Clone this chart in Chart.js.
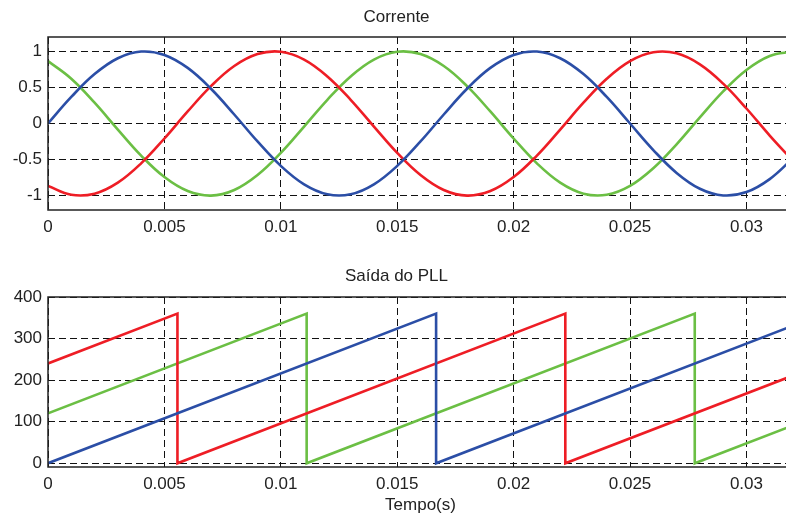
<!DOCTYPE html>
<html>
<head>
<meta charset="utf-8">
<script src="https://cdn.jsdelivr.net/npm/chart.js@4"></script>
<style>
  body { margin: 0; background: #fff; overflow: hidden; width: 786px; height: 516px; position: relative; }
  .box { position: absolute; left: 0; }
</style>
</head>
<body>
<div class="box" style="top:0;width:793px;height:240px"><canvas id="correnteChart"></canvas></div>
<div class="box" style="top:250px;width:793px;height:266px"><canvas id="pllChart"></canvas></div>
<script>
  // tempo (s) das amostras da corrente
  const tempo = [0, 0.001, 0.002, 0.003, 0.004, 0.005, 0.006, 0.007, 0.008, 0.009,
    0.010, 0.011, 0.012, 0.013, 0.014, 0.015, 0.016, 0.017, 0.018, 0.019,
    0.020, 0.021, 0.022, 0.023, 0.024, 0.025, 0.026, 0.027, 0.028, 0.029,
    0.030, 0.031, 0.032];

  // correntes (pu)
  const correnteAzul = [0, 0.368, 0.685, 0.905, 0.998, 0.951, 0.771, 0.482, 0.125, -0.249,
    -0.588, -0.844, -0.982, -0.982, -0.844, -0.588, -0.249, 0.125, 0.482, 0.771,
    0.951, 0.998, 0.905, 0.685, 0.368, 0, -0.368, -0.685, -0.905, -0.998,
    -0.951, -0.771, -0.482];
  const correnteVermelha = [-0.866, -0.989, -0.974, -0.821, -0.553, -0.208, 0.167, 0.518, 0.797, 0.963,
    0.995, 0.887, 0.653, 0.329, -0.042, -0.407, -0.714, -0.922, -1.0, -0.937,
    -0.743, -0.445, -0.084, 0.289, 0.621, 0.866, 0.989, 0.974, 0.821, 0.553,
    0.208, -0.167, -0.518];
  const correnteVerde = [0.866, 0.621, 0.289, -0.084, -0.445, -0.743, -0.937, -1.0, -0.922, -0.714,
    -0.407, -0.042, 0.329, 0.653, 0.887, 0.995, 0.963, 0.797, 0.518, 0.167,
    -0.208, -0.553, -0.821, -0.974, -0.989, -0.866, -0.621, -0.289, 0.084, 0.445,
    0.743, 0.937, 1.0];

  // saida do PLL (graus): pontos de quebra das rampas
  const pllAzulT = [0, 0.01667, 0.01667, 0.032];
  const pllAzul = [0, 360, 0, 331];
  const pllVermelhoT = [0, 0.00556, 0.00556, 0.02222, 0.02222, 0.032];
  const pllVermelho = [240, 360, 0, 360, 0, 211];
  const pllVerdeT = [0, 0.01111, 0.01111, 0.02778, 0.02778, 0.032];
  const pllVerde = [120, 360, 0, 360, 0, 91];

  // rotulos dos eixos
  const xTicks = [0, 0.005, 0.01, 0.015, 0.02, 0.025, 0.03];
  const yTicksCorrente = [-1, -0.5, 0, 0.5, 1];
  const yTicksPll = [0, 100, 200, 300, 400];

  const AZUL = '#2b4ea6', VERMELHO = '#ee1d25', VERDE = '#6bbf44';
  const FONTE = 'Arial, "Liberation Sans", Helvetica, sans-serif';

  const pares = (t, v) => t.map((x, i) => ({ x: x, y: v[i] }));

  // moldura solida do grafico
  const moldura = {
    id: 'moldura',
    afterDraw(chart) {
      const a = chart.chartArea, c = chart.ctx;
      c.save();
      c.strokeStyle = '#222';
      c.lineWidth = 1.5;
      c.strokeRect(a.left, a.top, a.right - a.left, a.bottom - a.top);
      c.restore();
    }
  };

  function serie(data, cor, tensao) {
    return { data: data, borderColor: cor, borderWidth: 2.6, pointRadius: 0, tension: tensao, fill: false };
  }

  function opcoes(titulo, tituloPad, yMin, yMax, yTicks, xAltura, xTitulo) {
    return {
      responsive: true,
      maintainAspectRatio: false,
      animation: false,
      layout: { padding: 0 },
      plugins: {
        legend: { display: false },
        tooltip: { enabled: false },
        title: { display: true, text: titulo, color: '#222', font: { family: FONTE, size: 17, weight: 'normal' }, padding: tituloPad }
      },
      scales: {
        x: {
          type: 'linear', min: 0, max: 0.032,
          afterBuildTicks: s => { s.ticks = xTicks.map(v => ({ value: v })); },
          afterFit: s => { s.height = xAltura; },
          ticks: { color: '#222', padding: 7, font: { family: FONTE, size: 17 }, callback: v => String(v), maxRotation: 0 },
          grid: { color: '#111', lineWidth: 1, drawTicks: false },
          border: { display: false, dash: [7, 4] },
          title: xTitulo ? { display: true, text: xTitulo, color: '#222', font: { family: FONTE, size: 17 }, padding: { top: 0, bottom: 0 } } : { display: false }
        },
        y: {
          min: yMin, max: yMax,
          afterBuildTicks: s => { s.ticks = yTicks.map(v => ({ value: v })); },
          afterFit: s => { s.width = 48; },
          ticks: { color: '#222', padding: 6, font: { family: FONTE, size: 17 }, callback: v => String(v) },
          grid: { color: '#111', lineWidth: 1, drawTicks: false },
          border: { display: false, dash: [7, 4] }
        }
      }
    };
  }

  new Chart(document.getElementById('correnteChart').getContext('2d'), {
    type: 'line',
    data: {
      datasets: [
        serie(pares(tempo, correnteAzul), AZUL, 0.4),
        serie(pares(tempo, correnteVermelha), VERMELHO, 0.4),
        serie(pares(tempo, correnteVerde), VERDE, 0.4)
      ]
    },
    options: opcoes('Corrente', { top: 7, bottom: 9.6 }, -1.2, 1.2, yTicksCorrente, 30, null),
    plugins: [moldura]
  });

  new Chart(document.getElementById('pllChart').getContext('2d'), {
    type: 'line',
    data: {
      datasets: [
        serie(pares(pllAzulT, pllAzul), AZUL, 0),
        serie(pares(pllVermelhoT, pllVermelho), VERMELHO, 0),
        serie(pares(pllVerdeT, pllVerde), VERDE, 0)
      ]
    },
    options: opcoes('Saída do PLL', { top: 15.8, bottom: 10.8 }, -9, 400, yTicksPll, 49, 'Tempo(s)'),
    plugins: [moldura]
  });
</script>
</body>
</html>
